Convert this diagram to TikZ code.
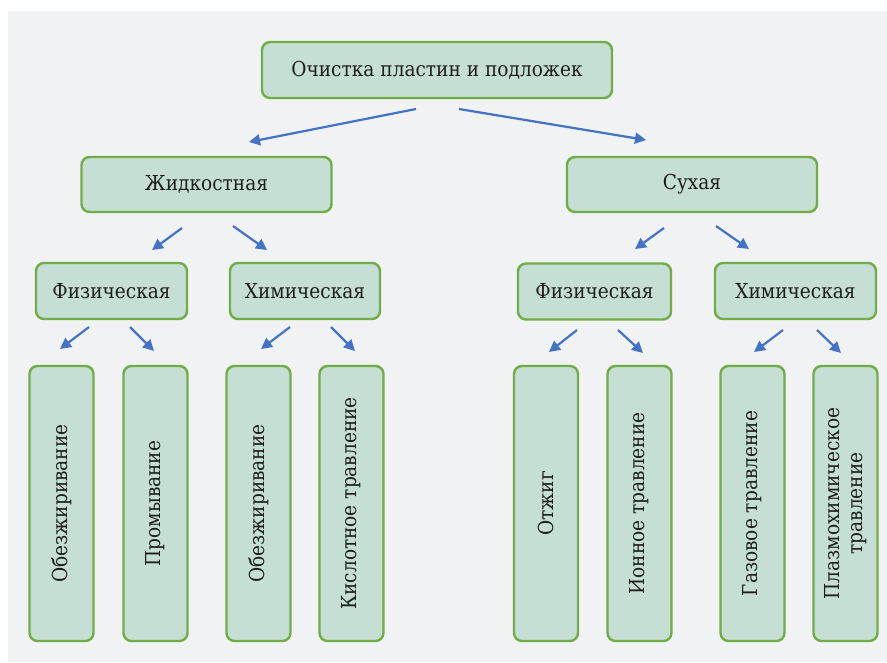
\documentclass[tikz,border=0pt]{standalone}
\usepackage{fontspec}
\setmainfont{DejaVu Serif}[FakeStretch=0.9]
\usetikzlibrary{arrows.meta}
\definecolor{bgc}{HTML}{F1F2F4}
\definecolor{boxfill}{HTML}{C5DFD4}
\definecolor{boxline}{HTML}{70AD47}
\definecolor{arrc}{HTML}{4472C4}
\definecolor{txt}{HTML}{1E1E1E}
\tikzset{
  box/.style={draw=boxline, line width=2.4pt, fill=boxfill, rounded corners=8pt,
    text=txt, font=\fontsize{20.6}{23}\selectfont, inner sep=0pt, align=center},
  leaf/.style={box, rotate=90, minimum width=275pt, minimum height=64pt},
  arr/.style={draw=arrc, line width=2.2pt, -{Triangle[length=11pt,width=11pt]}},
}
\begin{document}
\begin{tikzpicture}[x=1pt,y=-1pt]
\useasboundingbox (0,0) rectangle (887,662);
\fill[white] (0,0) rectangle (887,662);
\fill[bgc] (8,11) rectangle (887,662);
% level 1
\node[box, minimum width=350pt, minimum height=56pt] (top) at (437,70) {Очистка пластин и подложек};
% level 2
\node[box, minimum width=250pt, minimum height=55pt] (liq) at (206.5,184.5) {Жидкостная};
\node[box, minimum width=250pt, minimum height=55pt] (dry) at (692,184.5) {Сухая};
% level 3
\node[box, minimum width=151pt, minimum height=56pt] (lphys) at (111.5,291) {Физическая};
\node[box, minimum width=150pt, minimum height=56pt] (lchem) at (305,291) {Химическая};
\node[box, minimum width=153pt, minimum height=56pt] (rphys) at (594.5,291.5) {Физическая};
\node[box, minimum width=161pt, minimum height=56pt] (rchem) at (795.5,291) {Химическая};
% level 4
\node[leaf] (l1) at (61.5,503.5) {Обезжиривание};
\node[leaf] (l2) at (155.5,503.5) {Промывание};
\node[leaf] (l3) at (258.5,503.5) {Обезжиривание};
\node[leaf] (l4) at (351.5,503.5) {Кислотное травление};
\node[leaf] (r1) at (546,503.5) {Отжиг};
\node[leaf] (r2) at (639.5,503.5) {Ионное травление};
\node[leaf] (r3) at (752.5,503.5) {Газовое травление};
\node[leaf] (r4) at (845.5,503.5) {Плазмохимическое\\травление};
% arrow end points
\coordinate (a1s) at (416,109); \coordinate (a1e) at (249,142);
\coordinate (a2s) at (459,109); \coordinate (a2e) at (646,140);
\coordinate (b1s) at (182,228); \coordinate (b1e) at (152,250);
\coordinate (b2s) at (233,226); \coordinate (b2e) at (267,250);
\coordinate (b3s) at (664,228); \coordinate (b3e) at (635,249);
\coordinate (b4s) at (716,226); \coordinate (b4e) at (749,249);
\coordinate (c1s) at (89,327);  \coordinate (c1e) at (60,349);
\coordinate (c2s) at (130,327); \coordinate (c2e) at (154,351);
\coordinate (c3s) at (290,327); \coordinate (c3e) at (261,349);
\coordinate (c4s) at (331,327); \coordinate (c4e) at (355,351);
\coordinate (c5s) at (577,330); \coordinate (c5e) at (549,352);
\coordinate (c6s) at (618,330); \coordinate (c6e) at (643,353);
\coordinate (c7s) at (783,330); \coordinate (c7e) at (754,352);
\coordinate (c8s) at (817,330); \coordinate (c8e) at (841,353);
\foreach \a in {a1,a2,b1,b2,b3,b4,c1,c2,c3,c4,c5,c6,c7,c8}
  \draw[arr] (\a s) -- (\a e);
\end{tikzpicture}
\end{document}
